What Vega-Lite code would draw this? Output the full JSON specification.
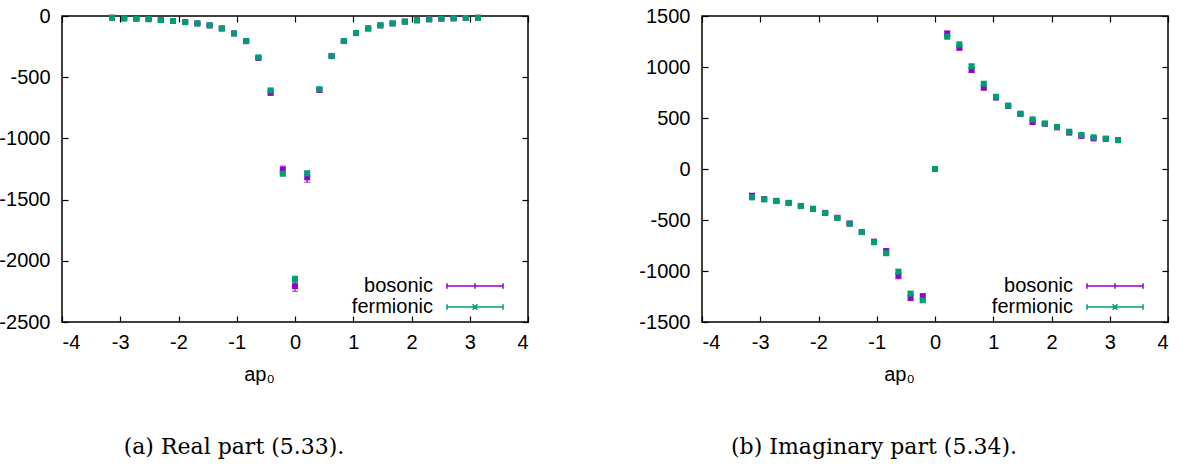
{
  "$schema": "https://vega.github.io/schema/vega-lite/v6.json",
  "background": "white",
  "padding": {"left": -2, "top": 5, "right": 5, "bottom": 5},
  "config": {
    "font": "Liberation Sans",
    "view": {"stroke": "#000", "strokeWidth": 1.5},
    "axis": {
      "domain": false,
      "grid": false,
      "ticks": true,
      "tickColor": "#000",
      "tickWidth": 1.2,
      "tickSize": -6,
      "labelFont": "Liberation Sans",
      "labelFontSize": 20,
      "labelColor": "#000",
      "titleFont": "Liberation Sans",
      "titleFontSize": 20,
      "titleFontWeight": "normal",
      "titleColor": "#000"
    },
    "legend": {
      "title": null,
      "orient": "none",
      "legendX": 403,
      "legendY": 260,
      "padding": 0,
      "labelFont": "Liberation Sans",
      "labelFontSize": 20,
      "labelColor": "#000",
      "labelAlign": "right",
      "labelOffset": -52,
      "symbolSize": 16,
      "symbolStrokeWidth": 1.5,
      "rowPadding": 1
    },
    "title": {
      "font": "DejaVu Serif",
      "fontSize": 22,
      "fontWeight": "normal",
      "color": "#000",
      "orient": "bottom",
      "anchor": "middle",
      "baseline": "alphabetic",
      "dx": -61,
      "offset": 53
    }
  },
  "datasets": {
    "re": [
      {"ap0": -3.1416, "series": "bosonic", "val": -14, "err": 3},
      {"ap0": -2.9322, "series": "bosonic", "val": -19, "err": 3},
      {"ap0": -2.7227, "series": "bosonic", "val": -22, "err": 3},
      {"ap0": -2.5133, "series": "bosonic", "val": -26, "err": 3},
      {"ap0": -2.3038, "series": "bosonic", "val": -33, "err": 3},
      {"ap0": -2.0944, "series": "bosonic", "val": -41, "err": 3},
      {"ap0": -1.8850, "series": "bosonic", "val": -50, "err": 3},
      {"ap0": -1.6755, "series": "bosonic", "val": -61, "err": 3},
      {"ap0": -1.4661, "series": "bosonic", "val": -77, "err": 3},
      {"ap0": -1.2566, "series": "bosonic", "val": -102, "err": 4},
      {"ap0": -1.0472, "series": "bosonic", "val": -143, "err": 4},
      {"ap0": -0.8378, "series": "bosonic", "val": -206, "err": 5},
      {"ap0": -0.6283, "series": "bosonic", "val": -343, "err": 8},
      {"ap0": -0.4189, "series": "bosonic", "val": -628, "err": 15},
      {"ap0": -0.2094, "series": "bosonic", "val": -1255, "err": 28},
      {"ap0": 0.0, "series": "bosonic", "val": -2207, "err": 42},
      {"ap0": 0.2094, "series": "bosonic", "val": -1318, "err": 40},
      {"ap0": 0.4189, "series": "bosonic", "val": -605, "err": 12},
      {"ap0": 0.6283, "series": "bosonic", "val": -328, "err": 6},
      {"ap0": 0.8378, "series": "bosonic", "val": -205, "err": 5},
      {"ap0": 1.0472, "series": "bosonic", "val": -140, "err": 4},
      {"ap0": 1.2566, "series": "bosonic", "val": -102, "err": 4},
      {"ap0": 1.4661, "series": "bosonic", "val": -77, "err": 3},
      {"ap0": 1.6755, "series": "bosonic", "val": -61, "err": 3},
      {"ap0": 1.8850, "series": "bosonic", "val": -46, "err": 3},
      {"ap0": 2.0944, "series": "bosonic", "val": -35, "err": 3},
      {"ap0": 2.3038, "series": "bosonic", "val": -27, "err": 3},
      {"ap0": 2.5133, "series": "bosonic", "val": -22, "err": 3},
      {"ap0": 2.7227, "series": "bosonic", "val": -19, "err": 3},
      {"ap0": 2.9322, "series": "bosonic", "val": -16, "err": 3},
      {"ap0": 3.1416, "series": "bosonic", "val": -14, "err": 3},
      {"ap0": -3.1416, "series": "fermionic", "val": -14, "err": 3},
      {"ap0": -2.9322, "series": "fermionic", "val": -19, "err": 3},
      {"ap0": -2.7227, "series": "fermionic", "val": -22, "err": 3},
      {"ap0": -2.5133, "series": "fermionic", "val": -25, "err": 3},
      {"ap0": -2.3038, "series": "fermionic", "val": -33, "err": 3},
      {"ap0": -2.0944, "series": "fermionic", "val": -41, "err": 3},
      {"ap0": -1.8850, "series": "fermionic", "val": -49, "err": 3},
      {"ap0": -1.6755, "series": "fermionic", "val": -60, "err": 3},
      {"ap0": -1.4661, "series": "fermionic", "val": -76, "err": 3},
      {"ap0": -1.2566, "series": "fermionic", "val": -101, "err": 3},
      {"ap0": -1.0472, "series": "fermionic", "val": -142, "err": 4},
      {"ap0": -0.8378, "series": "fermionic", "val": -204, "err": 4},
      {"ap0": -0.6283, "series": "fermionic", "val": -338, "err": 6},
      {"ap0": -0.4189, "series": "fermionic", "val": -608, "err": 10},
      {"ap0": -0.2094, "series": "fermionic", "val": -1288, "err": 18},
      {"ap0": 0.0, "series": "fermionic", "val": -2150, "err": 25},
      {"ap0": 0.2094, "series": "fermionic", "val": -1286, "err": 20},
      {"ap0": 0.4189, "series": "fermionic", "val": -598, "err": 10},
      {"ap0": 0.6283, "series": "fermionic", "val": -326, "err": 6},
      {"ap0": 0.8378, "series": "fermionic", "val": -204, "err": 4},
      {"ap0": 1.0472, "series": "fermionic", "val": -139, "err": 4},
      {"ap0": 1.2566, "series": "fermionic", "val": -101, "err": 3},
      {"ap0": 1.4661, "series": "fermionic", "val": -76, "err": 3},
      {"ap0": 1.6755, "series": "fermionic", "val": -60, "err": 3},
      {"ap0": 1.8850, "series": "fermionic", "val": -46, "err": 3},
      {"ap0": 2.0944, "series": "fermionic", "val": -35, "err": 3},
      {"ap0": 2.3038, "series": "fermionic", "val": -27, "err": 3},
      {"ap0": 2.5133, "series": "fermionic", "val": -22, "err": 3},
      {"ap0": 2.7227, "series": "fermionic", "val": -19, "err": 3},
      {"ap0": 2.9322, "series": "fermionic", "val": -16, "err": 3},
      {"ap0": 3.1416, "series": "fermionic", "val": -14, "err": 3}
    ],
    "im": [
      {"ap0": -3.1416, "series": "bosonic", "val": -262, "err": 6},
      {"ap0": -2.9322, "series": "bosonic", "val": -295, "err": 6},
      {"ap0": -2.7227, "series": "bosonic", "val": -312, "err": 6},
      {"ap0": -2.5133, "series": "bosonic", "val": -332, "err": 6},
      {"ap0": -2.3038, "series": "bosonic", "val": -362, "err": 6},
      {"ap0": -2.0944, "series": "bosonic", "val": -390, "err": 7},
      {"ap0": -1.8850, "series": "bosonic", "val": -430, "err": 7},
      {"ap0": -1.6755, "series": "bosonic", "val": -478, "err": 8},
      {"ap0": -1.4661, "series": "bosonic", "val": -534, "err": 9},
      {"ap0": -1.2566, "series": "bosonic", "val": -617, "err": 10},
      {"ap0": -1.0472, "series": "bosonic", "val": -712, "err": 14},
      {"ap0": -0.8378, "series": "bosonic", "val": -805, "err": 22},
      {"ap0": -0.6283, "series": "bosonic", "val": -1046, "err": 30},
      {"ap0": -0.4189, "series": "bosonic", "val": -1262, "err": 28},
      {"ap0": -0.2094, "series": "bosonic", "val": -1248, "err": 25},
      {"ap0": 0.0, "series": "bosonic", "val": 0, "err": 5},
      {"ap0": 0.2094, "series": "bosonic", "val": 1327, "err": 25},
      {"ap0": 0.4189, "series": "bosonic", "val": 1189, "err": 22},
      {"ap0": 0.6283, "series": "bosonic", "val": 971, "err": 22},
      {"ap0": 0.8378, "series": "bosonic", "val": 797, "err": 18},
      {"ap0": 1.0472, "series": "bosonic", "val": 700, "err": 12},
      {"ap0": 1.2566, "series": "bosonic", "val": 619, "err": 10},
      {"ap0": 1.4661, "series": "bosonic", "val": 540, "err": 9},
      {"ap0": 1.6755, "series": "bosonic", "val": 461, "err": 12},
      {"ap0": 1.8850, "series": "bosonic", "val": 443, "err": 8},
      {"ap0": 2.0944, "series": "bosonic", "val": 408, "err": 8},
      {"ap0": 2.3038, "series": "bosonic", "val": 357, "err": 8},
      {"ap0": 2.5133, "series": "bosonic", "val": 324, "err": 7},
      {"ap0": 2.7227, "series": "bosonic", "val": 300, "err": 7},
      {"ap0": 2.9322, "series": "bosonic", "val": 296, "err": 6},
      {"ap0": 3.1416, "series": "bosonic", "val": 283, "err": 6},
      {"ap0": -3.1416, "series": "fermionic", "val": -278, "err": 5},
      {"ap0": -2.9322, "series": "fermionic", "val": -298, "err": 5},
      {"ap0": -2.7227, "series": "fermionic", "val": -315, "err": 5},
      {"ap0": -2.5133, "series": "fermionic", "val": -334, "err": 5},
      {"ap0": -2.3038, "series": "fermionic", "val": -364, "err": 5},
      {"ap0": -2.0944, "series": "fermionic", "val": -393, "err": 6},
      {"ap0": -1.8850, "series": "fermionic", "val": -432, "err": 6},
      {"ap0": -1.6755, "series": "fermionic", "val": -481, "err": 7},
      {"ap0": -1.4661, "series": "fermionic", "val": -537, "err": 8},
      {"ap0": -1.2566, "series": "fermionic", "val": -619, "err": 9},
      {"ap0": -1.0472, "series": "fermionic", "val": -718, "err": 12},
      {"ap0": -0.8378, "series": "fermionic", "val": -826, "err": 15},
      {"ap0": -0.6283, "series": "fermionic", "val": -1007, "err": 22},
      {"ap0": -0.4189, "series": "fermionic", "val": -1222, "err": 20},
      {"ap0": -0.2094, "series": "fermionic", "val": -1287, "err": 15},
      {"ap0": 0.0, "series": "fermionic", "val": 0, "err": 5},
      {"ap0": 0.2094, "series": "fermionic", "val": 1297, "err": 15},
      {"ap0": 0.4189, "series": "fermionic", "val": 1222, "err": 15},
      {"ap0": 0.6283, "series": "fermionic", "val": 1007, "err": 18},
      {"ap0": 0.8378, "series": "fermionic", "val": 836, "err": 14},
      {"ap0": 1.0472, "series": "fermionic", "val": 708, "err": 10},
      {"ap0": 1.2566, "series": "fermionic", "val": 621, "err": 9},
      {"ap0": 1.4661, "series": "fermionic", "val": 542, "err": 8},
      {"ap0": 1.6755, "series": "fermionic", "val": 487, "err": 10},
      {"ap0": 1.8850, "series": "fermionic", "val": 446, "err": 7},
      {"ap0": 2.0944, "series": "fermionic", "val": 412, "err": 7},
      {"ap0": 2.3038, "series": "fermionic", "val": 366, "err": 7},
      {"ap0": 2.5133, "series": "fermionic", "val": 333, "err": 6},
      {"ap0": 2.7227, "series": "fermionic", "val": 311, "err": 6},
      {"ap0": 2.9322, "series": "fermionic", "val": 297, "err": 5},
      {"ap0": 3.1416, "series": "fermionic", "val": 284, "err": 5}
    ]
  },
  "spacing": 174,
  "bounds": "flush",
  "resolve": {"scale": {"color": "independent"}},
  "hconcat": [
    {
      "width": 466,
      "height": 306,
      "data": {"name": "re"},
      "title": {"text": "(a) Real part (5.33)."},
      "layer": [
        {
          "mark": {"type": "errorbar", "thickness": 1.2, "ticks": {"size": 6, "thickness": 1.2}},
          "encoding": {
            "x": {"field": "ap0", "type": "quantitative", "scale": {"domain": [-4, 4], "nice": false, "zero": false},
                  "axis": {"orient": "bottom", "values": [-4, -3, -2, -1, 0, 1, 2, 3, 4], "labelExpr": "'' + datum.value", "labelPadding": 16, "title": "ap₀", "titleX": 197, "titleY": 58, "titleBaseline": "alphabetic"}},
            "y": {"field": "val", "type": "quantitative", "scale": {"domain": [-2500, 0], "nice": false, "zero": false},
                  "axis": {"orient": "left", "values": [0, -500, -1000, -1500, -2000, -2500], "labelExpr": "'' + datum.value", "labelPadding": 18, "title": null}},
            "yError": {"field": "err"},
            "color": {"field": "series", "type": "nominal", "scale": {"domain": ["bosonic", "fermionic"], "range": ["#9400d3", "#009e73"]},
                      "legend": {
                        "encode": {"symbols": {"update": {
                          "shape": {"signal": "datum.value === 'bosonic' ? 'M-14,0H14M-14,-1.4V1.4M14,-1.4V1.4M0,-1.4V1.4' : 'M-14,0H14M-14,-1.4V1.4M14,-1.4V1.4M-1.2,-1.4L1.2,1.4M-1.2,1.4L1.2,-1.4'"},
                          "fill": {"value": "transparent"},
                          "stroke": {"signal": "datum.value === 'bosonic' ? '#9400d3' : '#009e73'"},
                          "strokeWidth": {"value": 1.5},
                          "opacity": {"value": 1}
                        }}}
                      }}
          }
        },
        {
          "mark": {"type": "point", "shape": "square", "filled": true, "size": 36, "opacity": 1},
          "encoding": {
            "x": {"field": "ap0", "type": "quantitative", "scale": {"domain": [-4, 4], "nice": false, "zero": false},
                  "axis": {"orient": "top", "values": [-4, -3, -2, -1, 0, 1, 2, 3, 4], "labels": false, "title": null}},
            "y": {"field": "val", "type": "quantitative", "scale": {"domain": [-2500, 0], "nice": false, "zero": false},
                  "axis": {"orient": "right", "values": [0, -500, -1000, -1500, -2000, -2500], "labels": false, "title": null}},
            "color": {"field": "series", "type": "nominal", "scale": {"domain": ["bosonic", "fermionic"], "range": ["#9400d3", "#009e73"]}}
          }
        }
      ],
      "resolve": {"axis": {"x": "independent", "y": "independent"}}
    },
    {
      "width": 466,
      "height": 306,
      "data": {"name": "im"},
      "title": {"text": "(b) Imaginary part (5.34)."},
      "layer": [
        {
          "mark": {"type": "errorbar", "thickness": 1.2, "ticks": {"size": 6, "thickness": 1.2}},
          "encoding": {
            "x": {"field": "ap0", "type": "quantitative", "scale": {"domain": [-4, 4], "nice": false, "zero": false},
                  "axis": {"orient": "bottom", "values": [-4, -3, -2, -1, 0, 1, 2, 3, 4], "labelExpr": "'' + datum.value", "labelPadding": 16, "title": "ap₀", "titleX": 197, "titleY": 58, "titleBaseline": "alphabetic"}},
            "y": {"field": "val", "type": "quantitative", "scale": {"domain": [-1500, 1500], "nice": false, "zero": false},
                  "axis": {"orient": "left", "values": [1500, 1000, 500, 0, -500, -1000, -1500], "labelExpr": "'' + datum.value", "labelPadding": 18, "title": null}},
            "yError": {"field": "err"},
            "color": {"field": "series", "type": "nominal", "scale": {"domain": ["bosonic", "fermionic"], "range": ["#9400d3", "#009e73"]},
                      "legend": {
                        "encode": {"symbols": {"update": {
                          "shape": {"signal": "datum.value === 'bosonic' ? 'M-14,0H14M-14,-1.4V1.4M14,-1.4V1.4M0,-1.4V1.4' : 'M-14,0H14M-14,-1.4V1.4M14,-1.4V1.4M-1.2,-1.4L1.2,1.4M-1.2,1.4L1.2,-1.4'"},
                          "fill": {"value": "transparent"},
                          "stroke": {"signal": "datum.value === 'bosonic' ? '#9400d3' : '#009e73'"},
                          "strokeWidth": {"value": 1.5},
                          "opacity": {"value": 1}
                        }}}
                      }}
          }
        },
        {
          "mark": {"type": "point", "shape": "square", "filled": true, "size": 36, "opacity": 1},
          "encoding": {
            "x": {"field": "ap0", "type": "quantitative", "scale": {"domain": [-4, 4], "nice": false, "zero": false},
                  "axis": {"orient": "top", "values": [-4, -3, -2, -1, 0, 1, 2, 3, 4], "labels": false, "title": null}},
            "y": {"field": "val", "type": "quantitative", "scale": {"domain": [-1500, 1500], "nice": false, "zero": false},
                  "axis": {"orient": "right", "values": [1500, 1000, 500, 0, -500, -1000, -1500], "labels": false, "title": null}},
            "color": {"field": "series", "type": "nominal", "scale": {"domain": ["bosonic", "fermionic"], "range": ["#9400d3", "#009e73"]}}
          }
        }
      ],
      "resolve": {"axis": {"x": "independent", "y": "independent"}}
    }
  ]
}
